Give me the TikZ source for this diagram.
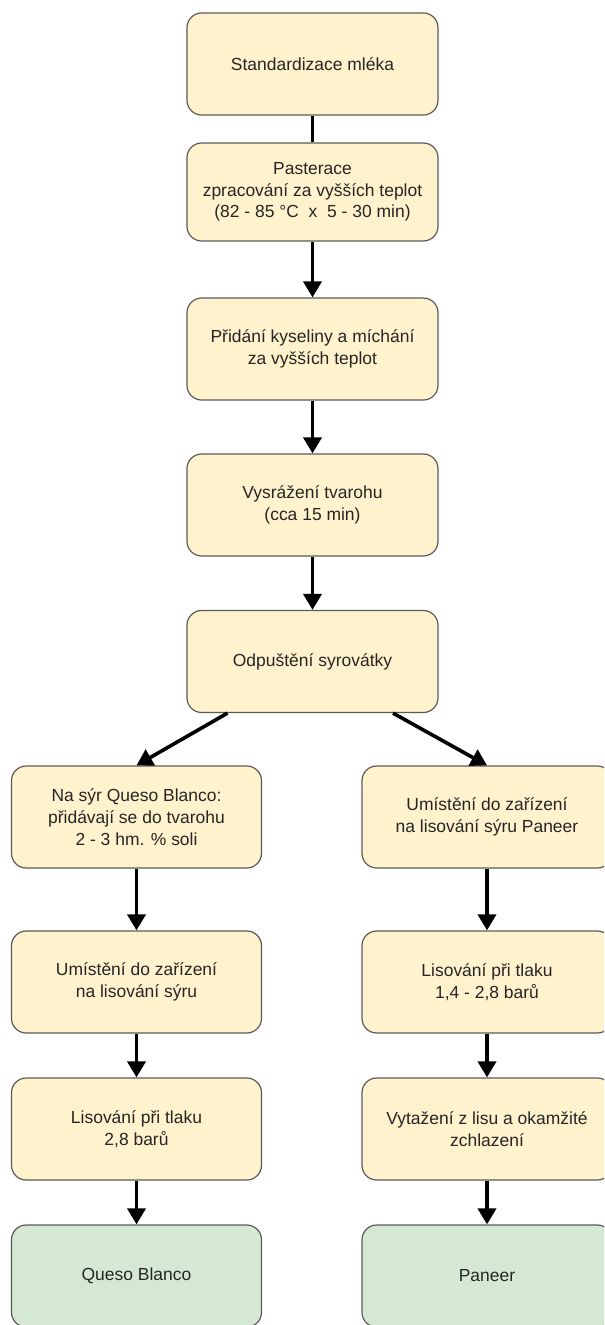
\documentclass[tikz,border=0pt]{standalone}
\usepackage{fontspec}
\setmainfont{Liberation Sans}
\usetikzlibrary{arrows.meta}
\definecolor{stepfill}{HTML}{FFF2CC}
\definecolor{endfill}{HTML}{D5E8D4}
\definecolor{boxline}{HTML}{5A5A5A}

\begin{document}
\begin{tikzpicture}[x=0.75pt, y=-0.75pt,
  stepbox/.style={draw=boxline, line width=0.9pt, fill=stepfill, rounded corners=11pt,
    minimum width=187.5pt, minimum height=76.5pt, inner sep=0pt, align=center,
    text=black!85, font=\fontsize{13.1}{16.3}\selectfont},
  endbox/.style={stepbox, fill=endfill},
  link/.style={line width=2.7pt},
  flow/.style={link, -{Triangle[length=12pt, width=13.5pt]}}]

  % Fix the page size
  \useasboundingbox (0,0) rectangle (604,1325);
  \clip (0,0) rectangle (604,1325);

  % Main column
  \node[stepbox, minimum width=188.25pt] (milk) at (312.5,64) {Standardizace mléka};
  \node[stepbox, minimum width=188.25pt, minimum height=73.5pt] (past) at (312.5,192)
    {Pasterace\\zpracování za vyšších teplot\\(82 - 85 °C\ \ x\ \ 5 - 30 min)};
  \node[stepbox, minimum width=188.25pt] (acid) at (312.5,349)
    {Přidání kyseliny a míchání\\za vyšších teplot};
  \node[stepbox, minimum width=188.25pt] (curd) at (312.5,505)
    {Vysrážení tvarohu\\(cca 15 min)};
  \node[stepbox, minimum width=188.25pt] (whey) at (312.5,661.5) {Odpuštění syrovátky};

  % Left column (Queso Blanco)
  \node[stepbox] (qsalt) at (136.5,817)
    {Na sýr Queso Blanco:\\přidávají se do tvarohu\\2 - 3 hm. \% soli};
  \node[stepbox] (qmould) at (136.5,982) {Umístění do zařízení\\na lisování sýru};
  \node[stepbox] (qpress) at (136.5,1129) {Lisování při tlaku\\2,8 barů};
  \node[endbox] (queso) at (136.5,1276) {Queso Blanco};

  % Right column (Paneer)
  \node[stepbox] (pmould) at (487,817) {Umístění do zařízení\\na lisování sýru Paneer};
  \node[stepbox] (ppress) at (487,982) {Lisování při tlaku\\1,4 - 2,8 barů};
  \node[stepbox] (pcool) at (487,1129) {Vytažení z lisu a okamžité\\zchlazení};
  \node[endbox] (paneer) at (487,1276) {Paneer};

  % Connectors
  \draw[link] (milk) -- (past);
  \draw[flow] (past) -- (acid);
  \draw[flow] (acid) -- (curd);
  \draw[flow] (curd) -- (whey);
  \draw[flow] ([xshift=-63.75pt]whey.south) -- (qsalt.north);
  \draw[flow] ([xshift=60.4pt]whey.south) -- (pmould.north);
  \draw[flow] (qsalt) -- (qmould);
  \draw[flow] (qmould) -- (qpress);
  \draw[flow] (qpress) -- (queso);
  \draw[flow] (pmould) -- (ppress);
  \draw[flow] (ppress) -- (pcool);
  \draw[flow] (pcool) -- (paneer);
\end{tikzpicture}
\end{document}
